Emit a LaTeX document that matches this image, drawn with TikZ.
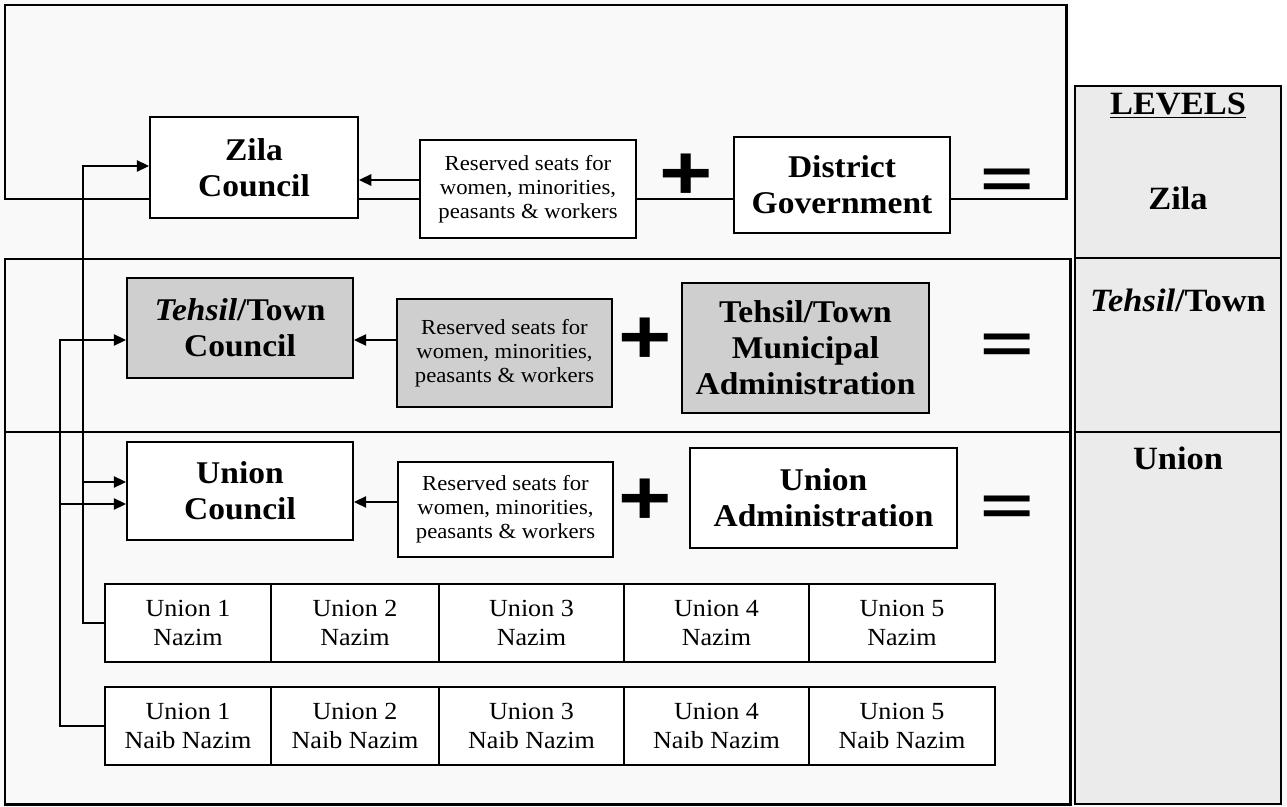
\documentclass[tikz,border=0pt]{standalone}
\usepackage{fontspec}
\setmainfont[FakeStretch=1.06]{Liberation Serif}
\setsansfont{Liberation Sans}
\usetikzlibrary{arrows.meta,calc}

\begin{document}
\begin{tikzpicture}[x=0.02cm,y=-0.02cm,
  frame/.style={draw,line width=1.7pt},
  lvl/.style={draw,line width=0.7pt,fill=gray!16},
  box/.style={draw,line width=1.1pt,fill=white,align=center,inner sep=0pt,font=\fontsize{18}{20.5}\selectfont\bfseries},
  shade/.style={box,fill=gray!38},
  seats/.style={draw,line width=1.1pt,fill=white,align=center,inner sep=0pt,font=\fontsize{12.2}{13.6}\selectfont},
  cell/.style={draw,line width=1.1pt,fill=white,align=center,inner sep=0pt,minimum height=1.56cm,font=\fontsize{14}{16.5}\selectfont},
  conn/.style={line width=0.8pt},
  arr/.style={conn,-{Triangle[length=7pt,width=6.5pt]}},
  sym/.style={inner sep=0pt,font=\fontsize{52}{52}\selectfont\sffamily\bfseries},
  lab/.style={inner sep=0pt,font=\fontsize{18.5}{20}\selectfont\bfseries}]
\useasboundingbox (0,0) rectangle (1287,807);
\fill[gray!5] (0,0) -- (1070,0) -- (1070,86) -- (1287,86) -- (1287,807) -- (0,807) -- cycle;

\draw[frame] (5,5) rectangle (1066,199);
\draw[frame] (5,259) rectangle (1070,432);
\draw[frame] (5,432) rectangle (1070,804);
\filldraw[lvl] (1075,86) rectangle (1281,258);
\filldraw[lvl] (1075,258) rectangle (1281,432);
\filldraw[lvl] (1075,432) rectangle (1281,804);

\node[lab] (lv) at (1178,106) {\underline{LEVELS}};
\node[lab] (lz) at (1178,198) {Zila};
\node[lab] (lt) at (1178,300) {\textit{Tehsil}/Town};
\node[lab] (lu) at (1178,458) {Union};

\node[box,minimum width=4.16cm,minimum height=2.02cm] (zc) at (254,167.5) {Zila\\Council};
\node[seats,minimum width=4.32cm,minimum height=1.96cm] (zr) at (528,189) {Reserved seats for\\women, minorities,\\peasants \& workers};
\node[sym] (zp) at (686,177) {\scalebox{1}[0.85]{+}};
\node[box,minimum width=4.32cm,minimum height=1.92cm] (zg) at (842,185) {District\\Government};
\node[sym] (ze) at (1007,183) {\scalebox{1}[0.6]{=}};

\node[shade,minimum width=4.52cm,minimum height=2cm] (tc) at (240,328) {\textit{Tehsil}/Town\\Council};
\node[seats,fill=gray!38,minimum width=4.3cm,minimum height=2.16cm] (tr) at (504.5,353) {Reserved seats for\\women, minorities,\\peasants \& workers};
\node[sym] (tp) at (645,341) {\scalebox{1}[0.85]{+}};
\node[shade,minimum width=4.94cm,minimum height=2.6cm] (tm) at (805.5,348) {Tehsil/Town\\Municipal\\Administration};
\node[sym] (te) at (1007,348) {\scalebox{1}[0.6]{=}};

\node[box,minimum width=4.52cm,minimum height=1.96cm] (uc) at (240,491) {Union\\Council};
\node[seats,minimum width=4.3cm,minimum height=1.9cm] (ur) at (505.5,509.5) {Reserved seats for\\women, minorities,\\peasants \& workers};
\node[sym] (up) at (645,502) {\scalebox{1}[0.85]{+}};
\node[box,minimum width=5.34cm,minimum height=2cm] (ua) at (823.5,498) {Union\\Administration};
\node[sym] (ue) at (1007,510) {\scalebox{1}[0.6]{=}};

\foreach \i/\a/\b in {1/105/271,2/271/439,3/439/624,4/624/809,5/809/995} {
  \pgfmathsetmacro\w{(\b-\a)/50}
  \node[cell,minimum width=\w cm] (n\i) at ({(\a+\b)/2},623) {Union \i\\Nazim};
  \node[cell,minimum width=\w cm] (d\i) at ({(\a+\b)/2},726) {Union \i\\Naib Nazim};
}

\draw[arr] ($(zr.west)+(0,-9)$) coordinate (a1) -- (zc.east |- a1);
\draw[arr] ($(tr.west)+(0,-13)$) coordinate (a2) -- (tc.east |- a2);
\draw[arr] ($(ur.west)+(0,-7.5)$) coordinate (a3) -- (uc.east |- a3);

\coordinate (s1) at (83,166);
\coordinate (s2) at (60,340);
\coordinate (s3) at (83,482);
\coordinate (s4) at (60,504);
\draw[arr] (n1.west) -| (s1) -- (zc.west |- s1);
\draw[arr] (s3) -- (uc.west |- s3);
\draw[arr] (d1.west) -| (s2) -- (tc.west |- s2);
\draw[arr] (s4) -- (uc.west |- s4);
\end{tikzpicture}
\end{document}
